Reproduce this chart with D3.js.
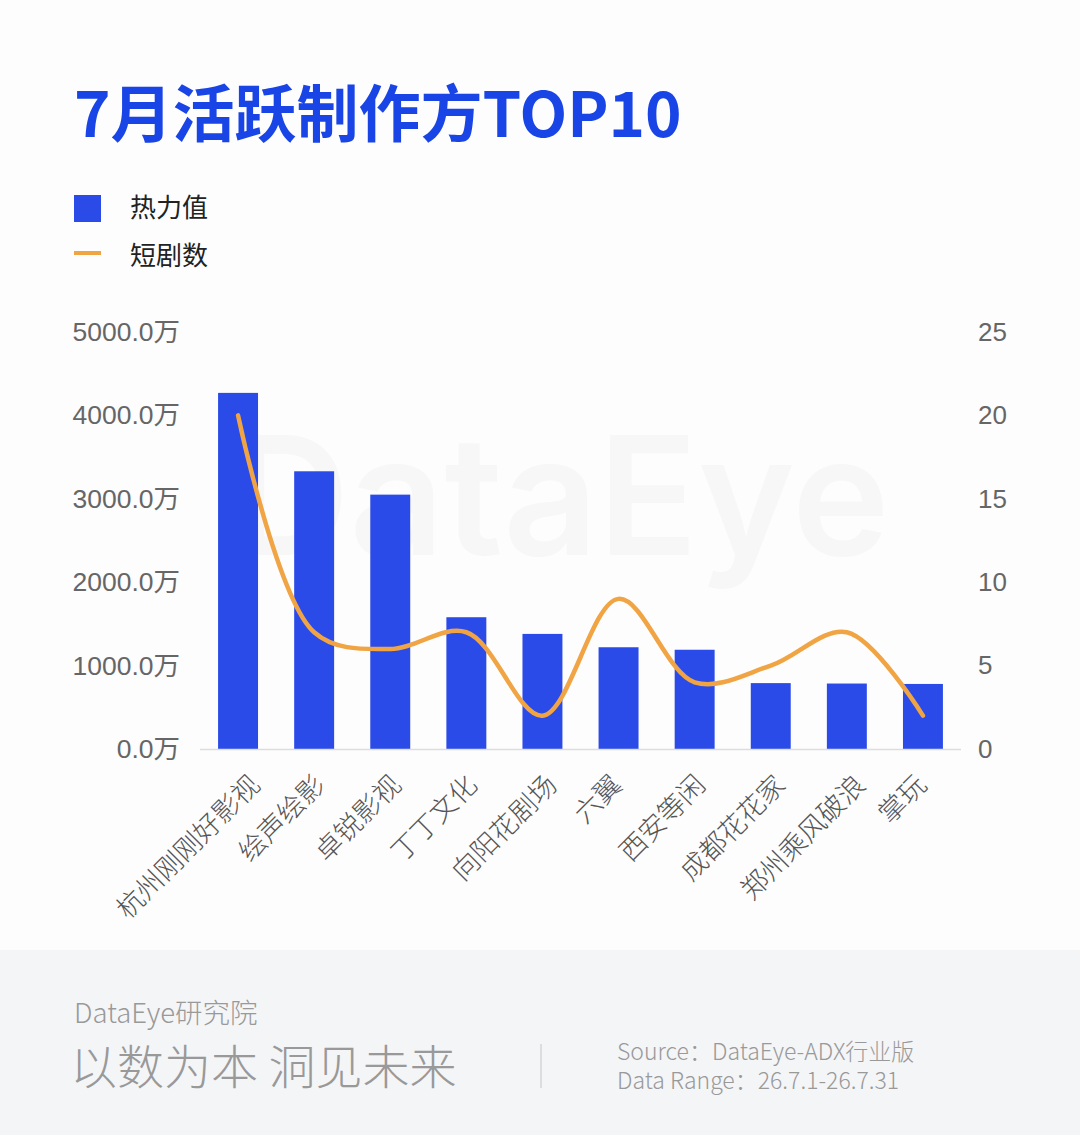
<!DOCTYPE html>
<html>
<head>
<meta charset="utf-8">
<script src="https://cdn.jsdelivr.net/npm/d3@7"></script>
<style>
  html, body { margin: 0; padding: 0; background: #fdfdfd; }
  svg { display: block; }
</style>
</head>
<body>
<script>
// data
const companies = ["杭州刚刚好影视", "绘声绘影", "卓锐影视", "丁丁文化", "向阳花剧场", "六翼", "西安等闲", "成都花花家", "郑州乘风破浪", "掌玩"];
const heat = [4270, 3330, 3050, 1580, 1380, 1220, 1190, 790, 785, 780];   // 万
const dramas = [20, 7, 6, 7, 2, 9, 4, 5, 7, 2];
const leftTicks = [0, 1000, 2000, 3000, 4000, 5000];
const rightTicks = [0, 5, 10, 15, 20, 25];

const width = 1080, height = 1135;
const blue = "#2b4be8", orange = "#f0a443";
const cjk = "'Noto Sans CJK SC', 'Liberation Sans', sans-serif";
const num = "'Liberation Sans', 'Noto Sans CJK SC', sans-serif";

const svg = d3.select("body").append("svg")
    .attr("width", width)
    .attr("height", height);

svg.append("rect").attr("width", width).attr("height", height).attr("fill", "#fdfdfd");

// faint watermark
svg.append("text")
    .attr("x", 560).attr("y", 555)
    .attr("text-anchor", "middle")
    .attr("font-family", "Inter, 'Liberation Sans', sans-serif")
    .attr("font-weight", 600)
    .attr("font-size", 165)
    .attr("fill", "#f7f7f7")
    .text("DataEye");

// title
svg.append("text")
    .attr("x", 74).attr("y", 137)
    .attr("font-family", cjk)
    .attr("font-weight", 700)
    .attr("font-size", 62)
    .attr("fill", "#1a45e6")
    .text("7月活跃制作方TOP10");

// legend
svg.append("rect").attr("x", 74).attr("y", 195).attr("width", 27).attr("height", 27).attr("fill", blue);
svg.append("line").attr("x1", 74).attr("x2", 101).attr("y1", 253).attr("y2", 253)
    .attr("stroke", orange).attr("stroke-width", 4);
svg.selectAll("text.legend")
  .data(["热力值", "短剧数"])
  .join("text")
    .attr("class", "legend")
    .attr("x", 130)
    .attr("y", (d, i) => 208 + i * 48)
    .attr("dy", "0.35em")
    .attr("font-family", cjk)
    .attr("font-size", 26)
    .attr("fill", "#222")
    .text(d => d);

// scales
const x = d3.scaleBand()
    .domain(companies)
    .range([200, 961])
    .paddingInner(0.475)
    .paddingOuter(0.2375);

const yL = d3.scaleLinear().domain([0, 5000]).range([749, 332]);
const yR = d3.scaleLinear().domain([0, 25]).range([749, 332]);

// left axis
const axL = svg.append("g")
    .attr("transform", "translate(200,0)")
    .call(d3.axisLeft(yL).tickValues(leftTicks).tickSize(0).tickPadding(20)
      .tickFormat(d => d3.format(".1f")(d) + "万"));
axL.select(".domain").remove();
axL.selectAll("text")
    .attr("font-family", num)
    .attr("font-size", 26.5)
    .attr("fill", "#666");

// right axis
const axR = svg.append("g")
    .attr("transform", "translate(961,0)")
    .call(d3.axisRight(yR).tickValues(rightTicks).tickSize(0).tickPadding(17));
axR.select(".domain").remove();
axR.selectAll("text")
    .attr("font-family", num)
    .attr("font-size", 26)
    .attr("fill", "#666");

// bars
svg.append("g")
  .selectAll("rect")
  .data(heat)
  .join("rect")
    .attr("x", (d, i) => x(companies[i]))
    .attr("y", d => yL(d))
    .attr("width", x.bandwidth())
    .attr("height", d => yL(0) - yL(d))
    .attr("fill", blue);

// baseline
svg.append("line")
    .attr("x1", 200).attr("x2", 961)
    .attr("y1", 749.5).attr("y2", 749.5)
    .attr("stroke", "#ddd").attr("stroke-width", 1.5);

// x labels, rotated; longer names sit a little further right in the original
svg.append("g")
  .selectAll("text")
  .data(companies)
  .join("text")
    .attr("transform", d => `translate(${x(d) + x.bandwidth() / 2 - 9 + 3.7 * d.length},${780}) rotate(-45)`)
    .attr("text-anchor", "end")
    .attr("dy", "0.35em")
    .attr("font-family", cjk)
    .attr("font-weight", 300)
    .attr("font-size", 27)
    .attr("fill", "#555")
    .text(d => d);

// line
const line = d3.line()
    .x((d, i) => x(companies[i]) + x.bandwidth() / 2)
    .y(d => yR(d))
    .curve(d3.curveCatmullRom.alpha(0.5));

svg.append("path")
    .datum(dramas)
    .attr("d", line)
    .attr("fill", "none")
    .attr("stroke", orange)
    .attr("stroke-width", 4.5)
    .attr("stroke-linecap", "round")
    .attr("stroke-linejoin", "round");

// footer
svg.append("rect")
    .attr("x", 0).attr("y", 950)
    .attr("width", width).attr("height", height - 950)
    .attr("fill", "#f4f5f7");

svg.append("text")
    .attr("x", 74).attr("y", 1013).attr("dy", "0.35em")
    .attr("font-family", cjk).attr("font-weight", 300)
    .attr("font-size", 27.5).attr("fill", "#999")
    .text("DataEye研究院");

svg.append("text")
    .attr("x", 70).attr("y", 1068).attr("dy", "0.35em")
    .attr("font-family", cjk).attr("font-weight", 300)
    .attr("font-size", 47).attr("fill", "#999")
    .text("以数为本 洞见未来");

svg.append("line")
    .attr("x1", 541).attr("x2", 541)
    .attr("y1", 1044).attr("y2", 1088)
    .attr("stroke", "#d4d4d4").attr("stroke-width", 1.5);

svg.selectAll("text.src")
  .data(["Source：DataEye-ADX行业版", "Data Range：26.7.1-26.7.31"])
  .join("text")
    .attr("class", "src")
    .attr("x", 617)
    .attr("y", (d, i) => 1052 + i * 29)
    .attr("dy", "0.35em")
    .attr("font-family", cjk).attr("font-weight", 300)
    .attr("font-size", 23).attr("fill", "#999")
    .text(d => d);
</script>
</body>
</html>
